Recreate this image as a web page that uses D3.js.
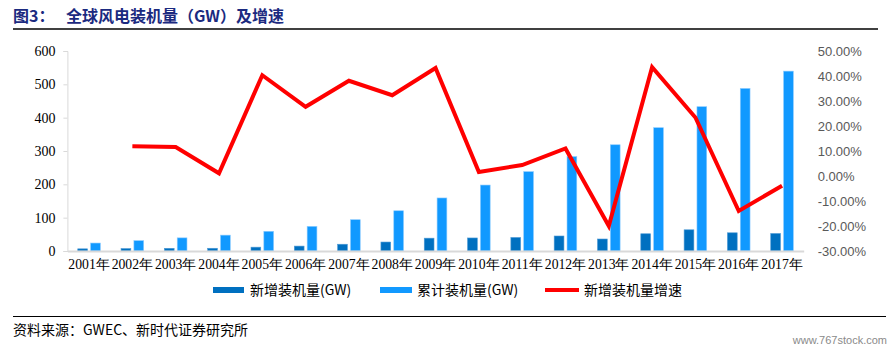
<!DOCTYPE html>
<html>
<head>
<meta charset="utf-8">
<script src="https://cdn.jsdelivr.net/npm/d3@7"></script>
<style>
  html, body { margin: 0; padding: 0; background: #fff; }
  svg { display: block; }
</style>
</head>
<body>
<svg id="chart" width="895" height="350"></svg>
<script>
// Global wind power: yearly additions, cumulative capacity (GW) and growth of additions
const years = ["2001年","2002年","2003年","2004年","2005年","2006年","2007年","2008年","2009年",
               "2010年","2011年","2012年","2013年","2014年","2015年","2016年","2017年"];
const newCapacity = [6.5, 7.3, 8.1, 8.2, 11.5, 14.7, 20.3, 26.9, 38.5, 39.1, 40.6, 45.0, 36.0, 51.7, 63.6, 54.6, 52.5];
const cumCapacity = [23.9, 31.1, 39.4, 47.6, 59.1, 73.9, 93.9, 120.7, 159.1, 197.9, 238.1, 283.2, 318.7, 369.9, 432.9, 487.7, 539.6];
const growthRate = [null, 11.9, 11.6, 1.1, 40.3, 27.7, 38.1, 32.3, 43.2, 1.6, 4.4, 11.0, -20.0, 43.5, 23.4, -14.0, -3.9];
const leftTicks = [0, 100, 200, 300, 400, 500, 600];
const rightTicks = [-30, -20, -10, 0, 10, 20, 30, 40, 50];
const seriesNames = ["新增装机量(GW)", "累计装机量(GW)", "新增装机量增速"];

const svg = d3.select("#chart");
const serif = "'Liberation Serif', 'Times New Roman', serif";
const cjk = "'Noto Sans CJK SC', sans-serif";

const plot = { left: 67.4, right: 803.7, top: 51, bottom: 251 };

const x0 = d3.scaleBand().domain(years).range([plot.left, plot.right])
  .paddingInner(0.478).paddingOuter(0.239);
const x1 = d3.scaleBand().domain(["new", "cum"]).range([0, x0.bandwidth()]).paddingInner(0.24);
const yL = d3.scaleLinear().domain([0, 600]).range([plot.bottom, plot.top]);
const yR = d3.scaleLinear().domain([-30, 50]).range([plot.bottom, plot.top]);

// Title
const title = svg.append("g");
title.append("text").attr("x", 13).attr("y", 22)
  .attr("font-family", cjk).attr("font-weight", 700).attr("font-size", 16)
  .attr("fill", "#1b2a80").text("图3：");
title.append("text").attr("x", 66).attr("y", 22)
  .attr("font-family", cjk).attr("font-weight", 700).attr("font-size", 16)
  .attr("fill", "#1b2a80").text("全球风电装机量（GW）及增速");
svg.append("line").attr("x1", 13).attr("x2", 878).attr("y1", 29).attr("y2", 29)
  .attr("stroke", "#000").attr("stroke-width", 1.5);

// Left axis
const axL = svg.append("g").attr("transform", `translate(${plot.left},0)`)
  .call(d3.axisLeft(yL).tickValues(leftTicks).tickSize(4).tickPadding(8).tickFormat(d3.format("d")));
axL.select(".domain").attr("stroke", "#d9d9d9");
axL.selectAll(".tick line").attr("stroke", "#d9d9d9");
axL.selectAll("text").attr("font-family", serif).attr("font-size", 14).attr("fill", "#000");

// Right axis (labels only)
const axR = svg.append("g").attr("transform", `translate(${plot.right},0)`)
  .call(d3.axisRight(yR).tickValues(rightTicks).tickSize(0).tickPadding(14)
    .tickFormat(d => d.toFixed(2) + "%"));
axR.select(".domain").remove();
axR.selectAll("text").attr("font-family", "'Liberation Sans', Arial, sans-serif")
  .attr("font-size", 13).attr("fill", "#595959");

// Bars
const groups = svg.append("g").selectAll("g").data(years).join("g")
  .attr("transform", d => `translate(${x0(d)},0)`);
groups.append("rect")
  .attr("x", x1("new")).attr("width", x1.bandwidth())
  .attr("y", (d, i) => yL(newCapacity[i]))
  .attr("height", (d, i) => yL(0) - yL(newCapacity[i]))
  .attr("fill", "#0070c0").attr("stroke", "#4d9ad6").attr("stroke-width", 0.6);
groups.append("rect")
  .attr("x", x1("cum")).attr("width", x1.bandwidth())
  .attr("y", (d, i) => yL(cumCapacity[i]))
  .attr("height", (d, i) => yL(0) - yL(cumCapacity[i]))
  .attr("fill", "#1199ff").attr("stroke", "#8ccbff").attr("stroke-width", 0.6);

// Category axis
const axB = svg.append("g").attr("transform", `translate(0,${plot.bottom})`)
  .call(d3.axisBottom(x0).tickSize(0).tickPadding(8));
axB.select(".domain").attr("stroke", "#d9d9d9").attr("stroke-width", 2);
axB.selectAll("text").attr("font-family", serif).attr("font-size", 13.7).attr("fill", "#000");

// Growth line
const line = d3.line()
  .defined(d => d.v !== null)
  .x(d => x0(d.year) + x0.bandwidth() / 2)
  .y(d => yR(d.v));
svg.append("path")
  .datum(years.map((year, i) => ({ year, v: growthRate[i] })))
  .attr("d", line).attr("fill", "none")
  .attr("stroke", "#ff0000").attr("stroke-width", 4).attr("stroke-linejoin", "miter");

// Legend
const legend = svg.append("g").attr("font-family", cjk).attr("font-size", 14).attr("fill", "#000");
legend.append("rect").attr("x", 213).attr("y", 287).attr("width", 31).attr("height", 6).attr("fill", "#0070c0");
legend.append("text").attr("x", 250).attr("y", 295).text(seriesNames[0]);
legend.append("rect").attr("x", 380).attr("y", 287).attr("width", 32).attr("height", 6).attr("fill", "#1199ff");
legend.append("text").attr("x", 417).attr("y", 295).text(seriesNames[1]);
legend.append("line").attr("x1", 545).attr("x2", 579).attr("y1", 290).attr("y2", 290)
  .attr("stroke", "#ff0000").attr("stroke-width", 4);
legend.append("text").attr("x", 584).attr("y", 295).text(seriesNames[2]);

// Source note
svg.append("line").attr("x1", 13).attr("x2", 886).attr("y1", 316.5).attr("y2", 316.5)
  .attr("stroke", "#000").attr("stroke-width", 1.2);
svg.append("text").attr("x", 13).attr("y", 335)
  .attr("font-family", cjk).attr("font-size", 14).attr("fill", "#000")
  .text("资料来源：GWEC、新时代证券研究所");
svg.append("text").attr("x", 887).attr("y", 344).attr("text-anchor", "end")
  .attr("font-family", "'Liberation Sans Narrow', 'Liberation Sans', sans-serif")
  .attr("font-size", 11).attr("fill", "#8a8a8a").text("www.767stock.com");
</script>
</body>
</html>
